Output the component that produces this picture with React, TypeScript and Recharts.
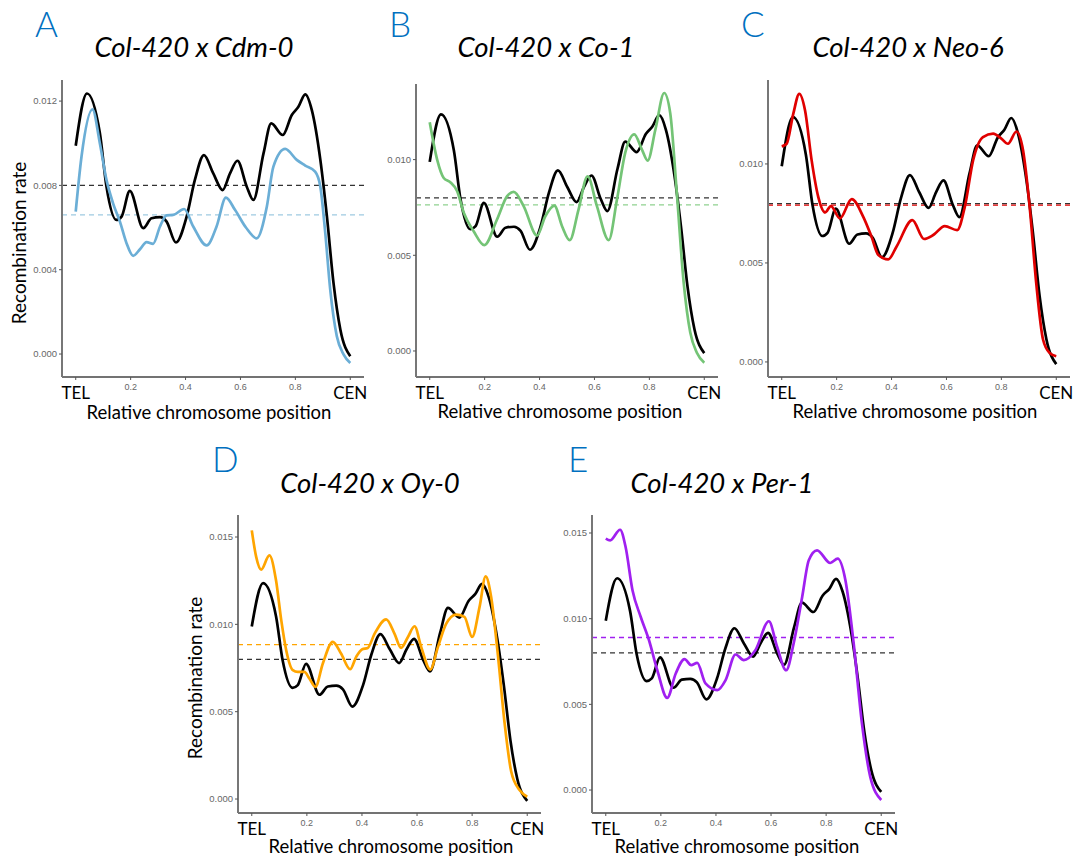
import { LineChart, Line, XAxis, YAxis, ReferenceLine } from "recharts";

// relative chromosome position (0 = TEL, 1 = CEN)
const xTicks = [0, 0.2, 0.4, 0.6, 0.8, 1];

// Col-420 (black reference curve, same in every panel)
const colPos = [0, 0.041, 0.088, 0.112, 0.148, 0.167, 0.197, 0.246, 0.276, 0.307, 0.331, 0.365, 0.404, 0.434, 0.467, 0.501, 0.535, 0.562, 0.589, 0.623, 0.647, 0.684, 0.712, 0.754, 0.787, 0.811, 0.836, 0.86, 0.891, 0.915, 0.939, 0.964, 1.0];
const colRate = [0.00988, 0.01236, 0.01047, 0.00794, 0.00636, 0.00652, 0.00774, 0.00597, 0.00644, 0.00649, 0.00628, 0.00529, 0.00652, 0.00826, 0.00944, 0.00857, 0.00778, 0.00857, 0.00917, 0.00794, 0.00731, 0.00952, 0.01094, 0.01039, 0.01134, 0.01173, 0.01232, 0.01157, 0.00921, 0.00652, 0.00336, 0.00115, -0.00011];
const colMean = 0.008;

const cdmPos = [0, 0.021, 0.061, 0.088, 0.112, 0.136, 0.161, 0.185, 0.209, 0.234, 0.258, 0.282, 0.307, 0.331, 0.355, 0.395, 0.428, 0.477, 0.513, 0.547, 0.58, 0.62, 0.659, 0.696, 0.72, 0.763, 0.805, 0.836, 0.872, 0.891, 0.909, 0.927, 0.951, 0.976, 1.0];
const cdmRate = [0.00676, 0.00936, 0.01161, 0.00999, 0.00826, 0.00715, 0.00628, 0.00526, 0.00466, 0.00497, 0.00531, 0.00523, 0.00605, 0.00658, 0.0066, 0.00688, 0.00605, 0.00515, 0.00605, 0.00742, 0.00684, 0.006, 0.00549, 0.00699, 0.00889, 0.00973, 0.00921, 0.00894, 0.00865, 0.00794, 0.00573, 0.00305, 0.00084, -0.00003, -0.00043];
const cdmMean = 0.0066;

const co1Pos = [0, 0.027, 0.051, 0.075, 0.1, 0.124, 0.16, 0.199, 0.245, 0.282, 0.306, 0.342, 0.391, 0.421, 0.454, 0.482, 0.51, 0.542, 0.575, 0.609, 0.652, 0.682, 0.712, 0.745, 0.773, 0.794, 0.822, 0.854, 0.876, 0.9, 0.925, 0.949, 0.973, 1.0];
const co1Rate = [0.01195, 0.01, 0.00904, 0.00882, 0.00835, 0.00722, 0.00626, 0.00553, 0.00687, 0.00809, 0.00831, 0.00757, 0.00603, 0.00704, 0.0076, 0.00652, 0.00579, 0.00739, 0.00913, 0.00757, 0.00579, 0.00791, 0.01035, 0.01132, 0.01052, 0.00995, 0.01157, 0.01348, 0.01243, 0.00826, 0.00357, 0.00096, -0.00009, -0.00061];
const co1Mean = 0.00763;

const neoPos = [0, 0.018, 0.042, 0.064, 0.085, 0.109, 0.133, 0.158, 0.179, 0.212, 0.255, 0.297, 0.327, 0.352, 0.388, 0.418, 0.476, 0.518, 0.552, 0.594, 0.639, 0.667, 0.697, 0.733, 0.77, 0.8, 0.824, 0.855, 0.879, 0.903, 0.927, 0.952, 0.976, 1.0];
const neoRate = [0.01089, 0.01102, 0.01253, 0.01354, 0.0127, 0.01018, 0.00834, 0.00755, 0.00787, 0.00725, 0.00822, 0.00733, 0.00633, 0.0054, 0.00518, 0.00582, 0.00716, 0.00621, 0.00641, 0.00686, 0.00666, 0.00784, 0.01018, 0.01136, 0.01153, 0.01128, 0.01102, 0.01164, 0.01069, 0.00784, 0.00398, 0.00112, 0.00045, 0.00029];
const neoMean = 0.00792;

const oyPos = [0, 0.016, 0.034, 0.064, 0.088, 0.107, 0.125, 0.149, 0.167, 0.191, 0.209, 0.231, 0.258, 0.294, 0.324, 0.357, 0.379, 0.401, 0.421, 0.446, 0.488, 0.518, 0.542, 0.567, 0.591, 0.615, 0.648, 0.676, 0.706, 0.742, 0.772, 0.8, 0.827, 0.849, 0.869, 0.893, 0.918, 0.942, 0.972, 1.0];
const oyRate = [0.01538, 0.01386, 0.01313, 0.01395, 0.01252, 0.01024, 0.00852, 0.00738, 0.00728, 0.00728, 0.0069, 0.00642, 0.00776, 0.009, 0.00833, 0.00743, 0.00814, 0.00858, 0.00865, 0.00947, 0.01029, 0.00947, 0.00865, 0.00928, 0.00989, 0.00871, 0.00741, 0.00871, 0.01004, 0.01056, 0.01043, 0.00928, 0.011, 0.01275, 0.01157, 0.00833, 0.00433, 0.00156, 0.00051, 0.00013];
const oyMean = 0.00884;

const perPos = [0, 0.016, 0.052, 0.072, 0.097, 0.127, 0.157, 0.187, 0.223, 0.254, 0.286, 0.31, 0.332, 0.362, 0.405, 0.435, 0.471, 0.501, 0.543, 0.592, 0.622, 0.655, 0.682, 0.713, 0.737, 0.767, 0.815, 0.842, 0.87, 0.9, 0.93, 0.96, 1.0];
const perRate = [0.01467, 0.01457, 0.01519, 0.01418, 0.01166, 0.0101, 0.00874, 0.00699, 0.00538, 0.0068, 0.00764, 0.00729, 0.00742, 0.00622, 0.00583, 0.00641, 0.00791, 0.00758, 0.00816, 0.00985, 0.00836, 0.00699, 0.00855, 0.01127, 0.01341, 0.01399, 0.01325, 0.0135, 0.01224, 0.00855, 0.00389, 0.00078, -0.00058];
const perMean = 0.0089;

const toRows = (pos: number[], rate: number[]) => pos.map((x, i) => ({ x, v: rate[i] }));
const colData = toRows(colPos, colRate);

const SANS = "Lato, 'Open Sans', sans-serif";
const TICK_FONT = "'Liberation Sans', Arial, sans-serif";
const AXIS_W = 40;
const AXIS_H = 40;
const PAD_R = 30;

const XTick = (props: any) => {
  const { x, y, payload } = props;
  const v = payload.value;
  if (v === 0 || v === 1) {
    return (
      <text x={x} y={y + 17} textAnchor="middle" fontFamily={SANS} fontSize={17} fill="#000">
        {v === 0 ? "TEL" : "CEN"}
      </text>
    );
  }
  return (
    <text x={x} y={y + 8} textAnchor="middle" fontFamily={TICK_FONT} fontSize={9} fill="#666">
      {v.toFixed(1)}
    </text>
  );
};

type PanelProps = {
  left: number; top: number; right: number; bottom: number;
  yDomain: [number, number]; yTicks: number[];
  color: string; dashColor: string; data: { x: number; v: number }[]; mean: number;
};

function Panel({ left, top, right, bottom, yDomain, yTicks, color, dashColor, data, mean }: PanelProps) {
  const w = right - left + AXIS_W + PAD_R;
  const h = bottom - top + AXIS_H;
  return (
    <div style={{ position: "absolute", left: left - AXIS_W, top, width: w, height: h }}>
      <LineChart width={w} height={h} margin={{ top: 0, right: PAD_R, bottom: 0, left: 0 }}>
        <XAxis
          type="number"
          dataKey="x"
          domain={[-0.05, 1.05]}
          ticks={xTicks}
          allowDataOverflow
          height={AXIS_H}
          tickSize={3}
          tickMargin={2}
          tick={<XTick />}
          axisLine={{ stroke: "#444", strokeWidth: 1.3 }}
          tickLine={{ stroke: "#555" }}
        />
        <YAxis
          type="number"
          dataKey="v"
          domain={yDomain}
          ticks={yTicks}
          allowDataOverflow
          width={AXIS_W}
          tickSize={3}
          tickMargin={2}
          tickFormatter={(v: number) => v.toFixed(3)}
          tick={{ fill: "#666", fontSize: 9.5, fontFamily: TICK_FONT }}
          axisLine={{ stroke: "#777", strokeWidth: 2 }}
          tickLine={{ stroke: "#555" }}
        />
        <ReferenceLine y={colMean} stroke="#333" strokeDasharray="5 4" strokeWidth={1.2} />
        <ReferenceLine y={mean} stroke={dashColor} strokeDasharray="5 4" strokeWidth={1.3} />
        <Line data={colData} dataKey="v" type="monotone" stroke="#000" strokeWidth={2.7} dot={false} isAnimationActive={false} />
        <Line data={data} dataKey="v" type="monotone" stroke={color} strokeWidth={2.7} dot={false} isAnimationActive={false} />
      </LineChart>
    </div>
  );
}

const letters = [
  { t: "A", x: 35, y: 37 },
  { t: "B", x: 389, y: 37 },
  { t: "C", x: 741, y: 37 },
  { t: "D", x: 212, y: 472 },
  { t: "E", x: 568, y: 472 },
];
const titles = [
  { t: "Col-420 x Cdm-0", x: 194, y: 57 },
  { t: "Col-420 x Co-1", x: 546, y: 57 },
  { t: "Col-420 x Neo-6", x: 908, y: 57 },
  { t: "Col-420 x Oy-0", x: 370, y: 493 },
  { t: "Col-420 x Per-1", x: 722, y: 493 },
];
const xLabels = [
  { x: 209, y: 419 },
  { x: 560, y: 418 },
  { x: 915, y: 418 },
  { x: 391, y: 853 },
  { x: 737, y: 853 },
];
const yLabels = [
  { x: 26, y: 243 },
  { x: 202, y: 678 },
];

export default function App() {
  return (
    <div style={{ position: "absolute", left: 0, top: 0, width: 1075, height: 857, background: "#fff", overflow: "hidden" }}>
      <Panel left={62} top={80} right={364} bottom={377} yDomain={[-0.00109, 0.013]} yTicks={[0, 0.004, 0.008, 0.012]}
        color="#6baed6" dashColor="#9ecae1" data={toRows(cdmPos, cdmRate)} mean={cdmMean} />
      <Panel left={416} top={84} right={718} bottom={377} yDomain={[-0.00136, 0.01395]} yTicks={[0, 0.005, 0.01]}
        color="#74c476" dashColor="#8fd18f" data={toRows(co1Pos, co1Rate)} mean={co1Mean} />
      <Panel left={768} top={80} right={1070} bottom={377} yDomain={[-0.00076, 0.01424]} yTicks={[0, 0.005, 0.01]}
        color="#e00000" dashColor="#e00000" data={toRows(neoPos, neoRate)} mean={neoMean} />
      <Panel left={238} top={515} right={541} bottom={813} yDomain={[-0.0008, 0.01626]} yTicks={[0, 0.005, 0.01, 0.015]}
        color="#ffa500" dashColor="#ffa500" data={toRows(oyPos, oyRate)} mean={oyMean} />
      <Panel left={592} top={515} right={895} bottom={813} yDomain={[-0.00134, 0.01605]} yTicks={[0, 0.005, 0.01, 0.015]}
        color="#a020f0" dashColor="#a020f0" data={toRows(perPos, perRate)} mean={perMean} />
      <svg width={1075} height={857} style={{ position: "absolute", left: 0, top: 0, pointerEvents: "none" }}>
        {letters.map((l) => (
          <text key={l.t} x={l.x} y={l.y} fontFamily={SANS} fontSize={35} fontWeight={300} fill="#0070c0">{l.t}</text>
        ))}
        {titles.map((l) => (
          <text key={l.t} x={l.x} y={l.y} textAnchor="middle" fontFamily={SANS} fontStyle="italic" fontSize={27.5} fill="#000">{l.t}</text>
        ))}
        {xLabels.map((l, i) => (
          <text key={i} x={l.x} y={l.y} textAnchor="middle" fontFamily={SANS} fontSize={18.5} fill="#000">Relative chromosome position</text>
        ))}
        {yLabels.map((l, i) => (
          <text key={i} x={l.x} y={l.y} textAnchor="middle" fontFamily={SANS} fontSize={19} fill="#000" transform={`rotate(-90 ${l.x} ${l.y})`}>Recombination rate</text>
        ))}
      </svg>
    </div>
  );
}
